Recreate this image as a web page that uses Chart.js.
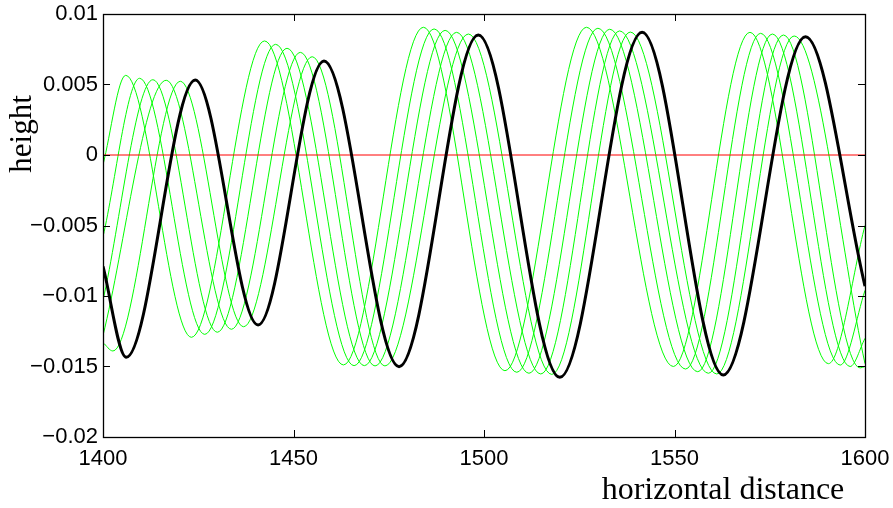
<!DOCTYPE html>
<html>
<head>
<meta charset="utf-8">
<script src="https://cdn.jsdelivr.net/npm/chart.js@4.4.0/dist/chart.umd.min.js"></script>
<style>
html, body { margin: 0; padding: 0; background: #fff; }
canvas { display: block; }
</style>
</head>
<body>
<canvas id="wave" width="893" height="508"></canvas>
<script>
// axis ticks
const xTicks = [1400, 1450, 1500, 1550, 1600];
const xTickLabels = ['1400', '1450', '1500', '1550', '1600'];
const yTicks = [-0.02, -0.015, -0.01, -0.005, 0, 0.005, 0.01];
const yTickLabels = ['\u22120.02', '\u22120.015', '\u22120.01', '\u22120.005', '0', '0.005', '0.01'];

// final profile (thick black)
const blackX = [1400, 1406.1, 1424.2, 1440.7, 1458.0, 1477.7, 1498.5, 1519.9, 1541.5, 1562.8, 1584.4, 1600];
const blackY = [-0.0079, -0.01435, 0.00532, -0.01206, 0.00667, -0.01501, 0.00851, -0.01577, 0.0087, -0.0156, 0.00839, -0.0093];

// earlier profiles (thin green)
const green1X = [1400, 1405.96, 1423.2, 1442.4, 1463.1, 1484.1, 1505.5, 1526.9, 1549.7, 1569.8, 1590.4, 1600];
const green1Y = [-0.0007, 0.00565, -0.01293, 0.00809, -0.01489, 0.00906, -0.0153, 0.00906, -0.0150, 0.0087, -0.0148, -0.0050];

const green2X = [1400, 1409.6, 1426.7, 1445.3, 1465.9, 1486.9, 1508.6, 1529.9, 1552.9, 1572.6, 1593.5, 1600];
const green2Y = [-0.0058, 0.00544, -0.01272, 0.00785, -0.01494, 0.00894, -0.01541, 0.00899, -0.01518, 0.00863, -0.0149, -0.0096];

const green3X = [1400, 1413.1, 1430.0, 1448.3, 1468.6, 1489.8, 1511.8, 1533.0, 1556.1, 1575.7, 1596.1, 1600];
const green3Y = [-0.0103, 0.00534, -0.01257, 0.00757, -0.01494, 0.00884, -0.01548, 0.00892, -0.01537, 0.00858, -0.0150, -0.0130];

const green4X = [1400, 1416.6, 1433.7, 1451.8, 1471.4, 1492.8, 1514.9, 1535.6, 1558.9, 1578.6, 1598.7, 1600];
const green4Y = [-0.0128, 0.0053, -0.01236, 0.00728, -0.01496, 0.0087, -0.01553, 0.0088, -0.01548, 0.00851, -0.0151, -0.0150];

const green5X = [1400, 1402.6, 1420.3, 1436.9, 1454.9, 1474.0, 1495.9, 1517.8, 1538.4, 1561.1, 1581.4, 1600];
const green5Y = [-0.0133, -0.0139, 0.00523, -0.01218, 0.00697, -0.01496, 0.00858, -0.01556, 0.00872, -0.01553, 0.00844, -0.0148];

const zeroX = [1400, 1600];
const zeroY = [0, 0];

function pts(xs, ys) {
  return xs.map(function (x, i) { return { x: x, y: ys[i] }; });
}

function wave(xs, ys, color, width) {
  return {
    data: pts(xs, ys),
    borderColor: color,
    borderWidth: width,
    pointRadius: 0,
    fill: false,
    cubicInterpolationMode: 'monotone'
  };
}

// box round the plot, ticks pointing inwards, axis titles
const framePlugin = {
  id: 'frame',
  afterDatasetsDraw: function (chart) {
    const ctx = chart.ctx;
    const a = chart.chartArea;
    const sx = chart.scales.x;
    const sy = chart.scales.y;
    const len = 7;
    ctx.save();
    ctx.strokeStyle = '#000';
    ctx.lineWidth = 1;
    ctx.beginPath();
    sx.ticks.forEach(function (t) {
      const px = Math.round(sx.getPixelForValue(t.value)) + 0.5;
      ctx.moveTo(px, a.bottom); ctx.lineTo(px, a.bottom - len);
      ctx.moveTo(px, a.top); ctx.lineTo(px, a.top + len);
    });
    sy.ticks.forEach(function (t) {
      const py = Math.round(sy.getPixelForValue(t.value)) + 0.5;
      ctx.moveTo(a.left, py); ctx.lineTo(a.left + len, py);
      ctx.moveTo(a.right, py); ctx.lineTo(a.right - len, py);
    });
    ctx.stroke();
    ctx.lineWidth = 1.3;
    ctx.strokeRect(Math.round(a.left) + 0.5, Math.round(a.top) + 0.5,
      Math.round(a.right - a.left), Math.round(a.bottom - a.top));
    ctx.restore();
  },
  afterDraw: function (chart) {
    const ctx = chart.ctx;
    ctx.save();
    ctx.fillStyle = '#000';
    ctx.font = '32px "Liberation Serif", "Times New Roman", serif';
    ctx.textAlign = 'center';
    ctx.textBaseline = 'alphabetic';
    ctx.fillText('horizontal distance', 723, 499);
    ctx.translate(31, 134);
    ctx.rotate(-Math.PI / 2);
    ctx.font = '31px "Liberation Serif", "Times New Roman", serif';
    ctx.fillText('height', 0, 0);
    ctx.restore();
  }
};

function noOverflow(scale) {
  scale.paddingLeft = 0;
  scale.paddingRight = 0;
  scale.paddingTop = 0;
  scale.paddingBottom = 0;
}

const tickFont = { family: '"Liberation Sans", Arial, sans-serif', size: 22 };

new Chart(document.getElementById('wave'), {
  type: 'line',
  data: {
    datasets: [
      wave(blackX, blackY, '#000000', 3),
      wave(zeroX, zeroY, '#ff0000', 1),
      wave(green1X, green1Y, '#00ff00', 1),
      wave(green2X, green2Y, '#00ff00', 1),
      wave(green3X, green3Y, '#00ff00', 1),
      wave(green4X, green4Y, '#00ff00', 1),
      wave(green5X, green5Y, '#00ff00', 1)
    ]
  },
  options: {
    responsive: false,
    animation: false,
    devicePixelRatio: 1,
    layout: { padding: { left: 0, right: 28, top: 14, bottom: 0 } },
    plugins: {
      legend: { display: false },
      tooltip: { enabled: false }
    },
    scales: {
      x: {
        type: 'linear',
        min: 1400,
        max: 1600,
        grid: { display: false, drawTicks: false },
        border: { display: false },
        afterBuildTicks: function (scale) {
          scale.ticks = xTicks.map(function (v) { return { value: v }; });
        },
        afterFit: function (scale) { scale.height = 71; noOverflow(scale); },
        ticks: {
          color: '#000',
          font: tickFont,
          padding: 9,
          maxRotation: 0,
          callback: function (value) { return xTickLabels[xTicks.indexOf(value)]; }
        }
      },
      y: {
        type: 'linear',
        min: -0.02,
        max: 0.01,
        grid: { display: false, drawTicks: false },
        border: { display: false },
        afterBuildTicks: function (scale) {
          scale.ticks = yTicks.map(function (v) { return { value: v }; });
        },
        afterFit: function (scale) { scale.width = 103; noOverflow(scale); },
        ticks: {
          color: '#000',
          font: tickFont,
          padding: 5,
          callback: function (value) { return yTickLabels[yTicks.indexOf(value)]; }
        }
      }
    }
  },
  plugins: [framePlugin]
});
</script>
</body>
</html>
